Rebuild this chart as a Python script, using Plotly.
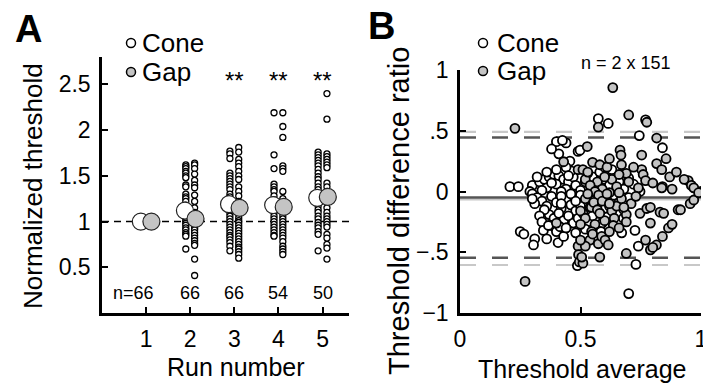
import plotly.graph_objects as go

# ---------------- Panel A data ----------------
runs = [1, 2, 3, 4, 5]
cone_mean = [1.0, 1.12, 1.19, 1.18, 1.26]
gap_mean = [1.0, 1.03, 1.15, 1.16, 1.27]
n_labels = ["n=66", "66", "66", "54", "50"]
star_runs = [3, 4, 5]

cone_runs = {
    2: [1.62, 1.60, 1.58, 1.55, 1.53, 1.50, 1.48, 1.40, 1.38, 1.30, 1.27, 1.25, 1.22, 1.18, 1.15,
        1.12, 1.08, 1.05, 1.02, 1.00, 0.98, 0.96, 0.93, 0.91, 0.88, 0.86, 0.84, 0.70],
    3: [1.77, 1.74, 1.69, 1.53, 1.50, 1.47, 1.44, 1.41, 1.38, 1.35, 1.30, 1.27, 1.24, 1.16, 1.12,
        1.09, 1.06, 1.03, 1.00, 0.97, 0.94, 0.91, 0.88, 0.85, 0.83, 0.80, 0.77, 0.73, 0.68],
    4: [2.19, 1.73, 1.58, 1.41, 1.38, 1.35, 1.33, 1.28, 1.24, 1.20, 1.15, 1.10, 1.06, 1.03, 1.00,
        0.97, 0.94, 0.91, 0.88, 0.85, 0.84],
    5: [1.76, 1.73, 1.70, 1.67, 1.64, 1.61, 1.57, 1.53, 1.49, 1.46, 1.42, 1.38, 1.35, 1.31, 1.20,
        1.17, 1.13, 1.10, 1.06, 1.03, 0.99, 0.96, 0.93, 0.89, 0.86, 0.68],
}
gap_runs = {
    2: [1.64, 1.62, 1.58, 1.52, 1.45, 1.40, 1.37, 1.29, 1.22, 1.15, 1.10, 1.06, 1.03, 1.00, 0.98,
        0.96, 0.93, 0.91, 0.88, 0.85, 0.82, 0.79, 0.76, 0.74, 0.59, 0.41],
    3: [1.81, 1.76, 1.68, 1.64, 1.60, 1.55, 1.50, 1.46, 1.38, 1.33, 1.28, 1.22, 1.18, 1.12, 1.08,
        1.04, 1.01, 0.99, 0.96, 0.93, 0.90, 0.87, 0.84, 0.81, 0.78, 0.75, 0.72, 0.70, 0.67, 0.64, 0.60],
    4: [2.19, 2.04, 1.92, 1.61, 1.58, 1.55, 1.33, 1.25, 1.20, 1.12, 1.06, 1.03, 1.00, 0.97, 0.94,
        0.91, 0.88, 0.85, 0.82, 0.78, 0.73, 0.70, 0.67, 0.64],
    5: [2.40, 2.12, 1.74, 1.71, 1.68, 1.65, 1.62, 1.59, 1.42, 1.38, 1.33, 1.29, 1.22, 1.15, 1.10,
        1.06, 1.03, 1.00, 0.97, 0.94, 0.86, 0.82, 0.75, 0.71, 0.59],
}

# ---------------- Panel B data ----------------
cone_avg = [0.207, 0.242, 0.40, 0.44, 0.41, 0.456, 0.49, 0.574, 0.615, 0.77, 0.744, 0.84, 0.84, 0.498, 0.425, 0.38,
            0.30, 0.33, 0.35, 0.37, 0.39, 0.41, 0.43, 0.45, 0.47, 0.36, 0.40, 0.44, 0.48, 0.52, 0.55, 0.58, 0.60,
            0.62, 0.64, 0.66, 0.68, 0.70, 0.72, 0.56, 0.50, 0.34, 0.29, 0.60, 0.63, 0.53, 0.46, 0.38, 0.42,
            0.30, 0.32, 0.34, 0.36, 0.38, 0.40, 0.42, 0.44, 0.46, 0.48, 0.50, 0.52, 0.54, 0.56, 0.58, 0.60,
            0.62, 0.64, 0.66, 0.68, 0.37, 0.39, 0.41, 0.43, 0.45, 0.47, 0.49, 0.51, 0.53, 0.35, 0.33, 0.31,
            0.55, 0.57, 0.61, 0.50, 0.44, 0.42, 0.46,
            0.32, 0.36, 0.40, 0.44, 0.34, 0.38, 0.42, 0.48, 0.30, 0.45, 0.65, 0.70, 0.59,
            0.25, 0.265, 0.31, 0.305, 0.346, 0.367, 0.36, 0.40, 0.407, 0.43, 0.415, 0.44, 0.487, 0.70, 0.74,
            0.726, 0.678, 0.671, 0.61, 0.747, 0.73, 0.48, 0.52, 0.585]
cone_diff = [0.04, 0.04, 0.41, 0.40, 0.31, 0.25, 0.33, 0.60, 0.56, 0.59, 0.46, 0.36, 0.04, 0.34, 0.42, 0.35,
             0.05, 0.08, 0.10, 0.12, 0.14, 0.13, 0.10, 0.08, 0.12, 0.03, 0.06, 0.02, 0.05, 0.08, 0.12, 0.16, 0.10,
             0.05, 0.13, 0.08, 0.02, 0.11, 0.06, 0.03, 0.01, 0.01, 0.00, 0.20, 0.18, 0.15, 0.17, 0.07, 0.00,
             -0.02, -0.05, -0.08, -0.12, -0.04, -0.09, -0.14, -0.06, -0.11, -0.16, -0.03, -0.09, -0.13, -0.07,
             -0.18, -0.05, -0.12, -0.03, -0.09, -0.15, -0.19, -0.22, -0.18, -0.24, -0.20, -0.26, -0.22, -0.18,
             -0.25, -0.15, -0.20, -0.10, -0.20, -0.10, -0.21, -0.12, -0.30, -0.04, -0.02,
             0.12, 0.16, 0.18, 0.20, -0.25, -0.28, -0.10, -0.08, -0.06, 0.13, 0.02, -0.05, -0.26,
             -0.33, -0.35, -0.39, -0.44, -0.32, -0.28, -0.39, -0.33, -0.42, -0.37, -0.29, -0.30, -0.61, -0.84,
             -0.45, -0.32, -0.22, -0.34, -0.21, 0.00, -0.60, -0.34, -0.31, -0.33]

gap_avg = [0.228, 0.43, 0.49, 0.634, 0.574, 0.70, 0.775, 0.816, 0.855, 0.816, 0.837, 0.87, 0.898, 0.947, 0.96,
           1.0, 0.754, 0.664, 0.668, 0.528, 0.754, 0.76, 0.77, 0.837,
           0.51, 0.55, 0.58, 0.61, 0.52, 0.57, 0.63, 0.54, 0.59, 0.65, 0.69, 0.72, 0.60, 0.66, 0.56, 0.62,
           0.67, 0.62, 0.74, 0.80, 0.88, 0.93, 0.97, 0.53, 0.70,
           0.52, 0.545, 0.575, 0.50, 0.53, 0.555, 0.57, 0.59, 0.61, 0.63, 0.65, 0.67, 0.69, 0.71, 0.73, 0.52,
           0.50, 0.56, 0.60, 0.64, 0.62, 0.66, 0.68, 0.40, 0.58,
           0.27, 0.49, 0.492, 0.495, 0.69, 0.77, 0.79, 0.815, 0.80, 0.84, 0.865, 0.88, 0.83, 0.845, 0.905,
           0.915, 0.955, 0.97, 0.99, 0.747, 0.775, 0.79, 0.79, 0.69, 0.636, 0.546, 0.539, 0.574, 0.588,
           0.602, 0.615, 0.58, 0.51, 0.505, 0.52, 0.50, 0.55, 0.62, 0.66]
gap_diff = [0.52, 0.245, 0.18, 0.855, 0.53, 0.63, 0.57, 0.44, 0.27, 0.23, 0.18, 0.12, 0.16, 0.09, 0.05,
            0.0, 0.30, 0.34, 0.30, 0.37, 0.18, 0.14, 0.09, 0.03,
            0.18, 0.24, 0.22, 0.20, 0.10, 0.08, 0.10, 0.05, 0.02, 0.04, 0.15, 0.20, 0.12, 0.14, 0.00, -0.01,
            0.22, 0.27, 0.03, 0.07, 0.02, 0.10, 0.03, 0.16, 0.08,
            -0.06, -0.13, -0.03, -0.16, -0.02, -0.09, -0.15, -0.08, -0.02, -0.16, -0.12, -0.06, -0.19, -0.10,
            -0.04, -0.22, -0.27, -0.27, -0.24, -0.22, -0.10, -0.01, -0.13, -0.26, -0.18,
            -0.74, -0.45, -0.52, -0.58, -0.51, -0.40, -0.48, -0.44, -0.46, -0.37, -0.30, -0.27, -0.17, -0.18,
            -0.15, -0.15, -0.10, -0.07, -0.01, -0.18, -0.14, -0.13, -0.26, -0.25, -0.28, -0.33, -0.40, -0.43,
            -0.37, -0.40, -0.44, -0.54, -0.59, -0.54, -0.45, -0.40, -0.35, -0.33, -0.30]

cone_line = {"mean": -0.05, "lo": -0.545, "hi": 0.445}
gap_line = {"mean": -0.066, "lo": -0.605, "hi": 0.49}

W, H = 703, 385
FONT = "Liberation Sans, Arial, Helvetica, sans-serif"
GREY = "#c4c4c4"


def px(x):
    return x / W


def py(y):
    return 1 - y / H


CONE_OFF, GAP_OFF = -0.1, 0.1
fig = go.Figure()

# Panel A: individual dots
for r in [2, 3, 4, 5]:
    fig.add_trace(go.Scatter(x=[r + CONE_OFF] * len(cone_runs[r]), y=cone_runs[r], mode="markers",
                             marker=dict(size=6, color="white", line=dict(color="black", width=1.3)),
                             xaxis="x", yaxis="y", showlegend=False))
    fig.add_trace(go.Scatter(x=[r + GAP_OFF] * len(gap_runs[r]), y=gap_runs[r], mode="markers",
                             marker=dict(size=6, color="white", line=dict(color="black", width=1.3)),
                             xaxis="x", yaxis="y", showlegend=False))
# means
fig.add_trace(go.Scatter(x=[r - 0.12 for r in runs], y=cone_mean, mode="markers",
                         marker=dict(size=17, color="white", line=dict(color="#222", width=1.2)),
                         xaxis="x", yaxis="y", showlegend=False))
fig.add_trace(go.Scatter(x=[r + 0.12 for r in runs], y=gap_mean, mode="markers",
                         marker=dict(size=17, color=GREY, line=dict(color="#222", width=1.2)),
                         xaxis="x", yaxis="y", showlegend=False))

# Panel B scatter
fig.add_trace(go.Scatter(x=cone_avg, y=cone_diff, mode="markers",
                         marker=dict(size=9, color="white", line=dict(color="black", width=1.8)),
                         xaxis="x2", yaxis="y2", showlegend=False))
fig.add_trace(go.Scatter(x=gap_avg, y=gap_diff, mode="markers",
                         marker=dict(size=9, color=GREY, line=dict(color="black", width=1.8)),
                         xaxis="x2", yaxis="y2", showlegend=False))

shapes = []
# Panel A reference line
shapes.append(dict(type="line", xref="x domain", yref="y", x0=0, x1=1, y0=1, y1=1,
                   line=dict(color="black", width=1.4, dash="7px,5px"), layer="below"))
# Panel B lines
for d, col, w in [(gap_line, "#c8c8c8", 2.2), (cone_line, "#555555", 2.5)]:
    shapes.append(dict(type="line", xref="x2 domain", yref="y2", x0=0, x1=1, y0=d["mean"], y1=d["mean"],
                       line=dict(color=col, width=w), layer="below"))
    for k in ["lo", "hi"]:
        shapes.append(dict(type="line", xref="x2 domain", yref="y2", x0=0, x1=1, y0=d[k], y1=d[k],
                           line=dict(color=col, width=w, dash="16px,16px"), layer="below"))

# legend symbols
for (lx, ly, fill) in [(131, 43, "white"), (131, 72, GREY), (483, 43, "white"), (483, 71, GREY)]:
    shapes.append(dict(type="circle", xref="paper", yref="paper", xsizemode="pixel", ysizemode="pixel",
                       xanchor=px(lx), yanchor=py(ly), x0=-4.5, x1=4.5, y0=-4.5, y1=4.5,
                       fillcolor=fill, line=dict(color="black", width=1.5)))

ann = []


def text(x, y, s, size, xanchor="center", yanchor="middle", bold=False, angle=0, xref="paper", yref="paper"):
    ann.append(dict(x=x, y=y, xref=xref, yref=yref, text=("<b>%s</b>" % s if bold else s), showarrow=False,
                    xanchor=xanchor, yanchor=yanchor, textangle=angle,
                    font=dict(size=size, family=FONT, color="black")))


text(px(28), py(29), "A", 38, bold=True)
text(px(381), py(26), "B", 38, bold=True)
text(px(140), py(43), "Cone", 26, xanchor="left")
text(px(140), py(72), "Gap", 26, xanchor="left")
text(px(495), py(43), "Cone", 26, xanchor="left")
text(px(495), py(71), "Gap", 26, xanchor="left")
text(px(626), py(63), "n = 2 x 151", 18)
for r in star_runs:
    ann.append(dict(x=r, y=py(80), xref="x", yref="paper", text="**", showarrow=False,
                    font=dict(size=24, family=FONT, color="black"), xanchor="center", yanchor="middle"))
for i, (r, s) in enumerate(zip(runs, n_labels)):
    ann.append(dict(x=r, y=py(293), xref="x", yref="paper", text=s, showarrow=False,
                    xanchor="right" if i == 0 else "center", xshift=10 if i == 0 else 0, yanchor="middle",
                    font=dict(size=18, family=FONT, color="black")))
text(px(236), py(367), "Run number", 25)
text(px(582), py(369), "Threshold average", 25)
text(px(33), py(186), "Normalized threshold", 26, angle=-90)
text(px(399), py(211), "Threshold difference ratio", 29, angle=-90)

axis_common = dict(showline=True, linecolor="black", linewidth=2.5, ticks="inside", ticklen=6, tickwidth=2,
                   tickcolor="black", showgrid=False, zeroline=False, automargin=False,
                   tickfont=dict(size=23, family=FONT, color="black"))

fig.update_layout(
    width=W, height=H, margin=dict(l=0, r=0, t=0, b=0),
    paper_bgcolor="white", plot_bgcolor="white", showlegend=False,
    font=dict(family=FONT, color="black"),
    xaxis=dict(domain=[px(102), px(349)], range=[0, 5.6], anchor="y", tickvals=runs,
               ticktext=[str(r) for r in runs], ticklabelstandoff=4, **axis_common),
    yaxis=dict(domain=[py(313), py(57)], range=[0, 2.8], anchor="x", tickvals=[0.5, 1, 1.5, 2, 2.5],
               ticktext=["0.5", "1", "1.5", "2", "2.5"], ticklabelstandoff=4, **axis_common),
    xaxis2=dict(domain=[px(460), px(701)], range=[0, 1], anchor="y2", tickvals=[0, 0.5, 1],
                ticktext=["0", "0.5", "1"], ticklabelstandoff=4, ticklabeloverflow="allow", **axis_common),
    yaxis2=dict(domain=[py(313), py(70)], range=[-1, 1], anchor="x2", tickvals=[-1, -0.5, 0, 0.5, 1],
                ticktext=["\u22121", "\u2212.5", "0", ".5", "1"], ticklabelstandoff=4, **axis_common),
    shapes=shapes, annotations=ann,
)

fig.write_html("out.html")
